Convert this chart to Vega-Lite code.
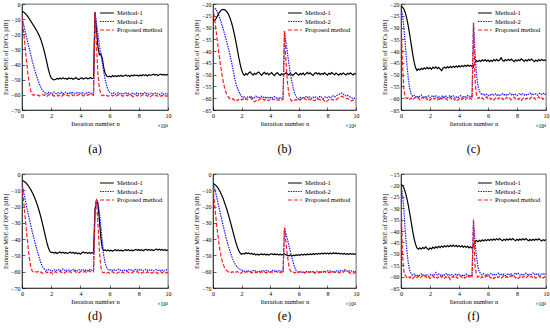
{
"$schema": "https://vega.github.io/schema/vega-lite/v6.json",
"padding": {"left": 2, "top": 0, "right": 2, "bottom": 0},
"columns": 3,
"spacing": {"row": 64, "column": 45},
"bounds": "flush",
"align": "each",
"resolve": {"scale": {"x": "independent", "y": "independent", "color": "independent", "strokeDash": "independent"}, "legend": {"color": "independent", "strokeDash": "independent"}},
"concat": [
{"title": {"text": "(a)", "offset": 14}, "width": 146, "height": 106, "layer": [
 {"data": {"name": "a"}, "transform": [{"fold": ["m1", "m2", "m3"], "as": ["k", "y"]}], "mark": {"type": "line", "strokeWidth": 1.2, "clip": true},
  "encoding": {
   "x": {"field": "x", "type": "quantitative", "scale": {"domain": [0, 10], "nice": false}, "axis": {"values": [0, 2, 4, 6, 8, 10], "tickCount": 20, "format": "d", "title": "Iteration number n", "labelOverlap": false}},
   "y": {"field": "y", "type": "quantitative", "scale": {"domain": [-70, 0], "nice": false, "zero": false}, "axis": {"values": [-70, -60, -50, -40, -30, -20, -10, 0], "tickCount": 20, "format": "d", "title": "Estimate MSE of DFCs [dB]", "labelOverlap": false}},
   "color": {"field": "k", "type": "nominal", "scale": {"domain": ["m1", "m2", "m3"], "range": ["#000000", "#1a1aff", "#ff1a1a"]}, "legend": {"title": null, "labelExpr": "datum.value == 'm1' ? 'Method-1' : datum.value == 'm2' ? 'Method-2' : 'Proposed method'"}},
   "strokeDash": {"field": "k", "type": "nominal", "scale": {"domain": ["m1", "m2", "m3"], "range": [[1, 0], [1.5, 1], [4, 2]]}, "legend": {"title": null, "labelExpr": "datum.value == 'm1' ? 'Method-1' : datum.value == 'm2' ? 'Method-2' : 'Proposed method'"}}
  }},
 {"data": {"values": [{"x": 10, "y": -70, "t": "×10⁴"}]}, "mark": {"type": "text", "align": "right", "baseline": "top", "dy": 14, "dx": 0, "fontSize": 5.5, "font": "Liberation Serif"}, "encoding": {"x": {"field": "x", "type": "quantitative"}, "y": {"field": "y", "type": "quantitative"}, "text": {"field": "t"}}}
]},
{"title": {"text": "(b)", "offset": 14}, "width": 143, "height": 106, "layer": [
 {"data": {"name": "b"}, "transform": [{"fold": ["m1", "m2", "m3"], "as": ["k", "y"]}], "mark": {"type": "line", "strokeWidth": 1.2, "clip": true},
  "encoding": {
   "x": {"field": "x", "type": "quantitative", "scale": {"domain": [0, 10], "nice": false}, "axis": {"values": [0, 2, 4, 6, 8, 10], "tickCount": 20, "format": "d", "title": "Iteration number n", "labelOverlap": false}},
   "y": {"field": "y", "type": "quantitative", "scale": {"domain": [-65, -20], "nice": false, "zero": false}, "axis": {"values": [-65, -60, -55, -50, -45, -40, -35, -30, -25, -20], "tickCount": 20, "format": "d", "title": "Estimate MSE of DFCs [dB]", "labelOverlap": false}},
   "color": {"field": "k", "type": "nominal", "scale": {"domain": ["m1", "m2", "m3"], "range": ["#000000", "#1a1aff", "#ff1a1a"]}, "legend": {"title": null, "labelExpr": "datum.value == 'm1' ? 'Method-1' : datum.value == 'm2' ? 'Method-2' : 'Proposed method'"}},
   "strokeDash": {"field": "k", "type": "nominal", "scale": {"domain": ["m1", "m2", "m3"], "range": [[1, 0], [1.5, 1], [4, 2]]}, "legend": {"title": null, "labelExpr": "datum.value == 'm1' ? 'Method-1' : datum.value == 'm2' ? 'Method-2' : 'Proposed method'"}}
  }},
 {"data": {"values": [{"x": 10, "y": -65, "t": "×10⁴"}]}, "mark": {"type": "text", "align": "right", "baseline": "top", "dy": 14, "dx": 0, "fontSize": 5.5, "font": "Liberation Serif"}, "encoding": {"x": {"field": "x", "type": "quantitative"}, "y": {"field": "y", "type": "quantitative"}, "text": {"field": "t"}}}
]},
{"title": {"text": "(c)", "offset": 14}, "width": 145, "height": 106, "layer": [
 {"data": {"name": "c"}, "transform": [{"fold": ["m1", "m2", "m3"], "as": ["k", "y"]}], "mark": {"type": "line", "strokeWidth": 1.2, "clip": true},
  "encoding": {
   "x": {"field": "x", "type": "quantitative", "scale": {"domain": [0, 10], "nice": false}, "axis": {"values": [0, 2, 4, 6, 8, 10], "tickCount": 20, "format": "d", "title": "Iteration number n", "labelOverlap": false}},
   "y": {"field": "y", "type": "quantitative", "scale": {"domain": [-65, -20], "nice": false, "zero": false}, "axis": {"values": [-65, -60, -55, -50, -45, -40, -35, -30, -25, -20], "tickCount": 20, "format": "d", "title": "Estimate MSE of DFCs [dB]", "labelOverlap": false}},
   "color": {"field": "k", "type": "nominal", "scale": {"domain": ["m1", "m2", "m3"], "range": ["#000000", "#1a1aff", "#ff1a1a"]}, "legend": {"title": null, "labelExpr": "datum.value == 'm1' ? 'Method-1' : datum.value == 'm2' ? 'Method-2' : 'Proposed method'"}},
   "strokeDash": {"field": "k", "type": "nominal", "scale": {"domain": ["m1", "m2", "m3"], "range": [[1, 0], [1.5, 1], [4, 2]]}, "legend": {"title": null, "labelExpr": "datum.value == 'm1' ? 'Method-1' : datum.value == 'm2' ? 'Method-2' : 'Proposed method'"}}
  }},
 {"data": {"values": [{"x": 10, "y": -65, "t": "×10⁴"}]}, "mark": {"type": "text", "align": "right", "baseline": "top", "dy": 14, "dx": 0, "fontSize": 5.5, "font": "Liberation Serif"}, "encoding": {"x": {"field": "x", "type": "quantitative"}, "y": {"field": "y", "type": "quantitative"}, "text": {"field": "t"}}}
]},
{"title": {"text": "(d)", "offset": 3}, "width": 146, "height": 114, "layer": [
 {"data": {"name": "d"}, "transform": [{"fold": ["m1", "m2", "m3"], "as": ["k", "y"]}], "mark": {"type": "line", "strokeWidth": 1.2, "clip": true},
  "encoding": {
   "x": {"field": "x", "type": "quantitative", "scale": {"domain": [0, 10], "nice": false}, "axis": {"values": [0, 2, 4, 6, 8, 10], "tickCount": 20, "format": "d", "title": "Iteration number n", "labelOverlap": false}},
   "y": {"field": "y", "type": "quantitative", "scale": {"domain": [-70, 0], "nice": false, "zero": false}, "axis": {"values": [-70, -60, -50, -40, -30, -20, -10, 0], "tickCount": 20, "format": "d", "title": "Estimate MSE of DFCs [dB]", "labelOverlap": false}},
   "color": {"field": "k", "type": "nominal", "scale": {"domain": ["m1", "m2", "m3"], "range": ["#000000", "#1a1aff", "#ff1a1a"]}, "legend": {"title": null, "labelExpr": "datum.value == 'm1' ? 'Method-1' : datum.value == 'm2' ? 'Method-2' : 'Proposed method'"}},
   "strokeDash": {"field": "k", "type": "nominal", "scale": {"domain": ["m1", "m2", "m3"], "range": [[1, 0], [1.5, 1], [4, 2]]}, "legend": {"title": null, "labelExpr": "datum.value == 'm1' ? 'Method-1' : datum.value == 'm2' ? 'Method-2' : 'Proposed method'"}}
  }},
 {"data": {"values": [{"x": 10, "y": -70, "t": "×10⁴"}]}, "mark": {"type": "text", "align": "right", "baseline": "top", "dy": 14, "dx": 0, "fontSize": 5.5, "font": "Liberation Serif"}, "encoding": {"x": {"field": "x", "type": "quantitative"}, "y": {"field": "y", "type": "quantitative"}, "text": {"field": "t"}}}
]},
{"title": {"text": "(e)", "offset": 3}, "width": 143, "height": 114, "layer": [
 {"data": {"name": "e"}, "transform": [{"fold": ["m1", "m2", "m3"], "as": ["k", "y"]}], "mark": {"type": "line", "strokeWidth": 1.2, "clip": true},
  "encoding": {
   "x": {"field": "x", "type": "quantitative", "scale": {"domain": [0, 10], "nice": false}, "axis": {"values": [0, 2, 4, 6, 8, 10], "tickCount": 20, "format": "d", "title": "Iteration number n", "labelOverlap": false}},
   "y": {"field": "y", "type": "quantitative", "scale": {"domain": [-70, 0], "nice": false, "zero": false}, "axis": {"values": [-70, -60, -50, -40, -30, -20, -10, 0], "tickCount": 20, "format": "d", "title": "Estimate MSE of DFCs [dB]", "labelOverlap": false}},
   "color": {"field": "k", "type": "nominal", "scale": {"domain": ["m1", "m2", "m3"], "range": ["#000000", "#1a1aff", "#ff1a1a"]}, "legend": {"title": null, "labelExpr": "datum.value == 'm1' ? 'Method-1' : datum.value == 'm2' ? 'Method-2' : 'Proposed method'"}},
   "strokeDash": {"field": "k", "type": "nominal", "scale": {"domain": ["m1", "m2", "m3"], "range": [[1, 0], [1.5, 1], [4, 2]]}, "legend": {"title": null, "labelExpr": "datum.value == 'm1' ? 'Method-1' : datum.value == 'm2' ? 'Method-2' : 'Proposed method'"}}
  }},
 {"data": {"values": [{"x": 10, "y": -70, "t": "×10⁴"}]}, "mark": {"type": "text", "align": "right", "baseline": "top", "dy": 14, "dx": 0, "fontSize": 5.5, "font": "Liberation Serif"}, "encoding": {"x": {"field": "x", "type": "quantitative"}, "y": {"field": "y", "type": "quantitative"}, "text": {"field": "t"}}}
]},
{"title": {"text": "(f)", "offset": 3}, "width": 145, "height": 114, "layer": [
 {"data": {"name": "f"}, "transform": [{"fold": ["m1", "m2", "m3"], "as": ["k", "y"]}], "mark": {"type": "line", "strokeWidth": 1.2, "clip": true},
  "encoding": {
   "x": {"field": "x", "type": "quantitative", "scale": {"domain": [0, 10], "nice": false}, "axis": {"values": [0, 2, 4, 6, 8, 10], "tickCount": 20, "format": "d", "title": "Iteration number n", "labelOverlap": false}},
   "y": {"field": "y", "type": "quantitative", "scale": {"domain": [-65, -15], "nice": false, "zero": false}, "axis": {"values": [-65, -60, -55, -50, -45, -40, -35, -30, -25, -20, -15], "tickCount": 20, "format": "d", "title": "Estimate MSE of DFCs [dB]", "labelOverlap": false}},
   "color": {"field": "k", "type": "nominal", "scale": {"domain": ["m1", "m2", "m3"], "range": ["#000000", "#1a1aff", "#ff1a1a"]}, "legend": {"title": null, "labelExpr": "datum.value == 'm1' ? 'Method-1' : datum.value == 'm2' ? 'Method-2' : 'Proposed method'"}},
   "strokeDash": {"field": "k", "type": "nominal", "scale": {"domain": ["m1", "m2", "m3"], "range": [[1, 0], [1.5, 1], [4, 2]]}, "legend": {"title": null, "labelExpr": "datum.value == 'm1' ? 'Method-1' : datum.value == 'm2' ? 'Method-2' : 'Proposed method'"}}
  }},
 {"data": {"values": [{"x": 10, "y": -65, "t": "×10⁴"}]}, "mark": {"type": "text", "align": "right", "baseline": "top", "dy": 14, "dx": 0, "fontSize": 5.5, "font": "Liberation Serif"}, "encoding": {"x": {"field": "x", "type": "quantitative"}, "y": {"field": "y", "type": "quantitative"}, "text": {"field": "t"}}}
]}
],
"datasets": {
"a": [
{"x":0,"m1":-5.0,"m2":-8,"m3":-8.5},{"x":0.1,"m1":-5.3,"m2":-13,"m3":-17},{"x":0.2,"m1":-6.0,"m2":-17.5,"m3":-27},{"x":0.3,"m1":-7.0,"m2":-21.5,"m3":-37},{"x":0.4,"m1":-8.3,"m2":-25.5,"m3":-45.5},{"x":0.5,"m1":-9.8,"m2":-29.5,"m3":-52.5},{"x":0.6,"m1":-11.3,"m2":-33.5,"m3":-57.5},{"x":0.7,"m1":-12.8,"m2":-37.5,"m3":-59.8},{"x":0.8,"m1":-14.3,"m2":-41,"m3":-60.3},{"x":0.9,"m1":-15.9,"m2":-44.5,"m3":-59.9},
{"x":1.0,"m1":-17.5,"m2":-47.5,"m3":-60.6},{"x":1.1,"m1":-19.3,"m2":-50.5,"m3":-60.1},{"x":1.2,"m1":-21.3,"m2":-53,"m3":-60.8},{"x":1.3,"m1":-23.8,"m2":-55.2,"m3":-60.2},{"x":1.4,"m1":-26.8,"m2":-57,"m3":-59.7},{"x":1.5,"m1":-30.3,"m2":-58.2,"m3":-60.5},{"x":1.6,"m1":-34.2,"m2":-58.8,"m3":-60.0},{"x":1.7,"m1":-38.5,"m2":-59.4,"m3":-61.0},{"x":1.8,"m1":-42.8,"m2":-58.3,"m3":-60.3},{"x":1.9,"m1":-46.5,"m2":-59.2,"m3":-59.8},
{"x":2.0,"m1":-48.8,"m2":-58.6,"m3":-60.6},{"x":2.1,"m1":-49.7,"m2":-59.5,"m3":-60.1},{"x":2.2,"m1":-50.1,"m2":-58.1,"m3":-60.9},{"x":2.3,"m1":-49.8,"m2":-58.9,"m3":-60.4},{"x":2.4,"m1":-49.2,"m2":-59.3,"m3":-59.9},{"x":2.5,"m1":-49.6,"m2":-58.4,"m3":-60.7},{"x":2.6,"m1":-48.9,"m2":-59.0,"m3":-60.2},{"x":2.7,"m1":-49.5,"m2":-58.2,"m3":-61.2},{"x":2.8,"m1":-48.7,"m2":-59.6,"m3":-60.3},{"x":2.9,"m1":-49.4,"m2":-58.7,"m3":-59.7},
{"x":3.0,"m1":-49.1,"m2":-58.3,"m3":-60.5},{"x":3.1,"m1":-49.8,"m2":-59.1,"m3":-60.0},{"x":3.2,"m1":-48.8,"m2":-58.5,"m3":-60.8},{"x":3.3,"m1":-49.3,"m2":-59.4,"m3":-60.2},{"x":3.4,"m1":-49.0,"m2":-58.0,"m3":-59.8},{"x":3.5,"m1":-49.7,"m2":-58.8,"m3":-60.6},{"x":3.6,"m1":-49.2,"m2":-59.2,"m3":-60.1},{"x":3.7,"m1":-48.6,"m2":-58.4,"m3":-60.9},{"x":3.8,"m1":-49.5,"m2":-59.0,"m3":-60.3},{"x":3.9,"m1":-49.9,"m2":-58.6,"m3":-59.8},
{"x":4.0,"m1":-49.1,"m2":-59.3,"m3":-60.4},{"x":4.1,"m1":-48.8,"m2":-58.2,"m3":-59.9},{"x":4.2,"m1":-49.6,"m2":-58.9,"m3":-60.7},{"x":4.3,"m1":-49.0,"m2":-59.5,"m3":-60.2},{"x":4.4,"m1":-48.7,"m2":-58.5,"m3":-59.6},{"x":4.5,"m1":-49.4,"m2":-58.9,"m3":-60.3},{"x":4.6,"m1":-49.1,"m2":-58.3,"m3":-59.8},{"x":4.7,"m1":-48.6,"m2":-59.1,"m3":-60.5},{"x":4.8,"m1":-49.3,"m2":-58.6,"m3":-59.9},{"x":4.9,"m1":-48.9,"m2":-58.8,"m3":-60.2},
{"x":5.0,"m1":-5.5,"m2":-5.5,"m3":-5.5},{"x":5.1,"m1":-17,"m2":-13,"m3":-27},{"x":5.2,"m1":-28,"m2":-20,"m3":-46},{"x":5.3,"m1":-33.5,"m2":-27,"m3":-55.5},{"x":5.4,"m1":-33,"m2":-33,"m3":-59.5},{"x":5.5,"m1":-36,"m2":-39,"m3":-60.6},{"x":5.6,"m1":-42,"m2":-45,"m3":-60.1},{"x":5.7,"m1":-46,"m2":-50,"m3":-60.9},{"x":5.8,"m1":-47.5,"m2":-54,"m3":-60.3},{"x":5.9,"m1":-48.1,"m2":-56.8,"m3":-61.0},
{"x":6.0,"m1":-47.6,"m2":-58.2,"m3":-60.4},{"x":6.1,"m1":-48.2,"m2":-58.9,"m3":-59.9},{"x":6.2,"m1":-47.3,"m2":-59.4,"m3":-60.8},{"x":6.3,"m1":-47.9,"m2":-58.7,"m3":-60.2},{"x":6.4,"m1":-47.4,"m2":-59.6,"m3":-61.1},{"x":6.5,"m1":-48.0,"m2":-59.0,"m3":-60.5},{"x":6.6,"m1":-47.2,"m2":-58.5,"m3":-59.9},{"x":6.7,"m1":-47.7,"m2":-59.3,"m3":-60.7},{"x":6.8,"m1":-47.1,"m2":-58.8,"m3":-60.2},{"x":6.9,"m1":-47.8,"m2":-59.7,"m3":-61.0},
{"x":7.0,"m1":-47.4,"m2":-59.1,"m3":-60.4},{"x":7.1,"m1":-46.9,"m2":-58.6,"m3":-59.8},{"x":7.2,"m1":-47.6,"m2":-59.4,"m3":-60.6},{"x":7.3,"m1":-47.2,"m2":-58.9,"m3":-60.1},{"x":7.4,"m1":-47.9,"m2":-59.8,"m3":-60.9},{"x":7.5,"m1":-47.0,"m2":-59.2,"m3":-60.3},{"x":7.6,"m1":-47.5,"m2":-58.7,"m3":-61.2},{"x":7.7,"m1":-46.8,"m2":-59.5,"m3":-60.5},{"x":7.8,"m1":-47.3,"m2":-59.0,"m3":-59.9},{"x":7.9,"m1":-47.0,"m2":-58.6,"m3":-60.7},
{"x":8.0,"m1":-47.6,"m2":-59.3,"m3":-60.2},{"x":8.1,"m1":-46.9,"m2":-58.9,"m3":-61.0},{"x":8.2,"m1":-47.4,"m2":-59.6,"m3":-60.4},{"x":8.3,"m1":-46.7,"m2":-59.0,"m3":-59.8},{"x":8.4,"m1":-47.2,"m2":-58.5,"m3":-60.6},{"x":8.5,"m1":-46.9,"m2":-59.4,"m3":-60.1},{"x":8.6,"m1":-47.5,"m2":-58.8,"m3":-60.9},{"x":8.7,"m1":-46.6,"m2":-59.7,"m3":-60.3},{"x":8.8,"m1":-47.1,"m2":-59.1,"m3":-61.1},{"x":8.9,"m1":-46.8,"m2":-58.7,"m3":-60.5},
{"x":9.0,"m1":-46.4,"m2":-59.5,"m3":-59.9},{"x":9.1,"m1":-47.0,"m2":-59.0,"m3":-60.8},{"x":9.2,"m1":-46.5,"m2":-58.6,"m3":-60.2},{"x":9.3,"m1":-47.2,"m2":-59.4,"m3":-61.0},{"x":9.4,"m1":-46.7,"m2":-59.9,"m3":-60.4},{"x":9.5,"m1":-46.3,"m2":-59.2,"m3":-60.9},{"x":9.6,"m1":-46.9,"m2":-58.8,"m3":-60.3},{"x":9.7,"m1":-46.5,"m2":-59.6,"m3":-61.2},{"x":9.8,"m1":-47.0,"m2":-59.1,"m3":-60.5},{"x":9.9,"m1":-46.6,"m2":-59.7,"m3":-60.9},
{"x":10.0,"m1":-46.8,"m2":-59.3,"m3":-60.4}
],
"b": [
{"x":0,"m1":-26.5,"m2":-22.5,"m3":-21.5},{"x":0.1,"m1":-27.0,"m2":-21.8,"m3":-25.5},{"x":0.2,"m1":-26.3,"m2":-22.2,"m3":-30.5},{"x":0.3,"m1":-25.2,"m2":-23.3,"m3":-35.5},{"x":0.4,"m1":-24.0,"m2":-24.8,"m3":-40.5},{"x":0.5,"m1":-23.1,"m2":-26.5,"m3":-45.0},{"x":0.6,"m1":-22.5,"m2":-28.4,"m3":-49.0},{"x":0.7,"m1":-22.3,"m2":-30.4,"m3":-52.5},{"x":0.8,"m1":-22.4,"m2":-32.5,"m3":-55.3},{"x":0.9,"m1":-22.8,"m2":-34.7,"m3":-57.4},
{"x":1.0,"m1":-23.5,"m2":-37.0,"m3":-58.8},{"x":1.1,"m1":-24.6,"m2":-39.4,"m3":-59.7},{"x":1.2,"m1":-26.1,"m2":-42.0,"m3":-60.3},{"x":1.3,"m1":-28.0,"m2":-44.8,"m3":-60.7},{"x":1.4,"m1":-30.3,"m2":-47.8,"m3":-60.2},{"x":1.5,"m1":-33.0,"m2":-51.0,"m3":-60.9},{"x":1.6,"m1":-36.0,"m2":-53.8,"m3":-60.4},{"x":1.7,"m1":-39.3,"m2":-55.6,"m3":-61.0},{"x":1.8,"m1":-42.6,"m2":-57.0,"m3":-60.5},{"x":1.9,"m1":-45.6,"m2":-58.3,"m3":-60.0},
{"x":2.0,"m1":-48.0,"m2":-59.3,"m3":-60.7},{"x":2.1,"m1":-49.6,"m2":-59.8,"m3":-60.3},{"x":2.2,"m1":-50.3,"m2":-59.4,"m3":-60.9},{"x":2.3,"m1":-49.5,"m2":-60.1,"m3":-60.2},{"x":2.4,"m1":-50.1,"m2":-59.6,"m3":-60.6},{"x":2.5,"m1":-49.3,"m2":-59.2,"m3":-60.0},{"x":2.6,"m1":-48.8,"m2":-59.9,"m3":-59.6},{"x":2.7,"m1":-49.6,"m2":-59.3,"m3":-60.3},{"x":2.8,"m1":-50.2,"m2":-60.2,"m3":-61.2},{"x":2.9,"m1":-49.4,"m2":-59.7,"m3":-61.6},
{"x":3.0,"m1":-49.9,"m2":-59.1,"m3":-61.0},{"x":3.1,"m1":-49.2,"m2":-59.8,"m3":-60.5},{"x":3.2,"m1":-48.9,"m2":-59.4,"m3":-60.9},{"x":3.3,"m1":-49.7,"m2":-60.0,"m3":-60.3},{"x":3.4,"m1":-50.3,"m2":-59.2,"m3":-59.8},{"x":3.5,"m1":-49.5,"m2":-59.7,"m3":-60.4},{"x":3.6,"m1":-49.0,"m2":-59.3,"m3":-60.8},{"x":3.7,"m1":-49.8,"m2":-60.1,"m3":-60.2},{"x":3.8,"m1":-49.3,"m2":-59.6,"m3":-60.7},{"x":3.9,"m1":-50.1,"m2":-59.9,"m3":-61.1},
{"x":4.0,"m1":-49.6,"m2":-59.4,"m3":-60.5},{"x":4.1,"m1":-49.1,"m2":-60.2,"m3":-60.9},{"x":4.2,"m1":-49.9,"m2":-59.7,"m3":-60.3},{"x":4.3,"m1":-50.4,"m2":-59.3,"m3":-60.7},{"x":4.4,"m1":-49.5,"m2":-60.0,"m3":-61.2},{"x":4.5,"m1":-49.2,"m2":-59.6,"m3":-60.6},{"x":4.6,"m1":-49.8,"m2":-60.3,"m3":-60.9},{"x":4.7,"m1":-50.3,"m2":-59.8,"m3":-60.4},{"x":4.8,"m1":-49.6,"m2":-60.1,"m3":-60.8},{"x":4.9,"m1":-50.0,"m2":-59.7,"m3":-60.5},
{"x":5.0,"m1":-49.8,"m2":-31.5,"m3":-31.5},{"x":5.1,"m1":-49.2,"m2":-36,"m3":-44},{"x":5.2,"m1":-49.7,"m2":-40.5,"m3":-53},{"x":5.3,"m1":-50.1,"m2":-45,"m3":-58},{"x":5.4,"m1":-49.4,"m2":-49,"m3":-60.3},{"x":5.5,"m1":-49.9,"m2":-52.5,"m3":-61.2},{"x":5.6,"m1":-50.3,"m2":-55.5,"m3":-60.7},{"x":5.7,"m1":-49.6,"m2":-57.8,"m3":-61.0},{"x":5.8,"m1":-49.1,"m2":-59.2,"m3":-60.5},{"x":5.9,"m1":-49.8,"m2":-60.0,"m3":-60.9},
{"x":6.0,"m1":-50.2,"m2":-60.3,"m3":-60.4},{"x":6.1,"m1":-49.5,"m2":-59.7,"m3":-60.8},{"x":6.2,"m1":-49.9,"m2":-60.1,"m3":-60.2},{"x":6.3,"m1":-49.3,"m2":-59.5,"m3":-60.6},{"x":6.4,"m1":-50.1,"m2":-59.9,"m3":-60.0},{"x":6.5,"m1":-49.6,"m2":-59.3,"m3":-60.5},{"x":6.6,"m1":-49.0,"m2":-59.8,"m3":-60.9},{"x":6.7,"m1":-49.7,"m2":-59.2,"m3":-60.3},{"x":6.8,"m1":-49.2,"m2":-59.7,"m3":-60.7},{"x":6.9,"m1":-49.9,"m2":-60.1,"m3":-60.2},
{"x":7.0,"m1":-50.3,"m2":-59.5,"m3":-60.8},{"x":7.1,"m1":-49.5,"m2":-59.9,"m3":-61.1},{"x":7.2,"m1":-49.1,"m2":-59.4,"m3":-60.5},{"x":7.3,"m1":-49.8,"m2":-60.0,"m3":-60.9},{"x":7.4,"m1":-49.3,"m2":-59.6,"m3":-60.3},{"x":7.5,"m1":-50.0,"m2":-59.1,"m3":-60.7},{"x":7.6,"m1":-49.5,"m2":-59.7,"m3":-60.1},{"x":7.7,"m1":-49.9,"m2":-60.2,"m3":-60.6},{"x":7.8,"m1":-49.2,"m2":-59.6,"m3":-61.2},{"x":7.9,"m1":-49.7,"m2":-59.3,"m3":-61.8},
{"x":8.0,"m1":-50.2,"m2":-59.8,"m3":-61.1},{"x":8.1,"m1":-49.4,"m2":-59.4,"m3":-60.6},{"x":8.2,"m1":-49.8,"m2":-59.9,"m3":-61.0},{"x":8.3,"m1":-49.1,"m2":-59.3,"m3":-60.4},{"x":8.4,"m1":-49.6,"m2":-59.0,"m3":-60.8},{"x":8.5,"m1":-50.0,"m2":-59.5,"m3":-60.3},{"x":8.6,"m1":-49.3,"m2":-59.1,"m3":-60.7},{"x":8.7,"m1":-49.8,"m2":-58.6,"m3":-60.1},{"x":8.8,"m1":-50.2,"m2":-58.4,"m3":-59.8},{"x":8.9,"m1":-49.5,"m2":-58.0,"m3":-59.4},
{"x":9.0,"m1":-49.9,"m2":-57.8,"m3":-59.1},{"x":9.1,"m1":-49.3,"m2":-58.3,"m3":-59.5},{"x":9.2,"m1":-49.7,"m2":-58.6,"m3":-59.9},{"x":9.3,"m1":-50.1,"m2":-59.0,"m3":-60.3},{"x":9.4,"m1":-49.4,"m2":-58.7,"m3":-60.0},{"x":9.5,"m1":-49.8,"m2":-59.2,"m3":-60.5},{"x":9.6,"m1":-49.2,"m2":-59.5,"m3":-60.9},{"x":9.7,"m1":-49.7,"m2":-59.8,"m3":-61.2},{"x":9.8,"m1":-50.1,"m2":-60.2,"m3":-60.7},{"x":9.9,"m1":-49.5,"m2":-60.0,"m3":-61.1},
{"x":10.0,"m1":-49.8,"m2":-60.4,"m3":-61.4}
],
"c": [
{"x":0,"m1":-21.0,"m2":-22.0,"m3":-24.0},{"x":0.1,"m1":-21.3,"m2":-24.5,"m3":-45.0},{"x":0.2,"m1":-22.2,"m2":-30.0,"m3":-56.5},{"x":0.3,"m1":-23.8,"m2":-37.5,"m3":-59.6},{"x":0.4,"m1":-26.2,"m2":-45.0,"m3":-60.2},{"x":0.5,"m1":-29.3,"m2":-51.5,"m3":-59.7},{"x":0.6,"m1":-33.0,"m2":-55.8,"m3":-60.5},{"x":0.7,"m1":-37.0,"m2":-58.2,"m3":-59.9},{"x":0.8,"m1":-41.0,"m2":-59.2,"m3":-60.8},{"x":0.9,"m1":-44.5,"m2":-58.8,"m3":-60.1},
{"x":1.0,"m1":-47.0,"m2":-59.5,"m3":-59.6},{"x":1.1,"m1":-48.2,"m2":-59.0,"m3":-60.4},{"x":1.2,"m1":-47.6,"m2":-59.7,"m3":-59.8},{"x":1.3,"m1":-48.0,"m2":-59.2,"m3":-60.7},{"x":1.4,"m1":-47.3,"m2":-58.7,"m3":-60.1},{"x":1.5,"m1":-47.8,"m2":-59.4,"m3":-59.5},{"x":1.6,"m1":-47.1,"m2":-59.9,"m3":-60.3},{"x":1.7,"m1":-47.6,"m2":-59.1,"m3":-59.8},{"x":1.8,"m1":-46.9,"m2":-59.6,"m3":-60.6},{"x":1.9,"m1":-47.5,"m2":-59.0,"m3":-60.0},
{"x":2.0,"m1":-47.0,"m2":-59.8,"m3":-60.9},{"x":2.1,"m1":-47.7,"m2":-59.3,"m3":-60.2},{"x":2.2,"m1":-46.8,"m2":-58.8,"m3":-59.6},{"x":2.3,"m1":-47.3,"m2":-59.5,"m3":-60.4},{"x":2.4,"m1":-46.7,"m2":-59.0,"m3":-59.9},{"x":2.5,"m1":-47.4,"m2":-59.7,"m3":-60.7},{"x":2.6,"m1":-46.9,"m2":-59.2,"m3":-60.1},{"x":2.7,"m1":-47.6,"m2":-60.1,"m3":-61.0},{"x":2.8,"m1":-48.3,"m2":-59.4,"m3":-60.3},{"x":2.9,"m1":-47.2,"m2":-58.9,"m3":-59.7},
{"x":3.0,"m1":-46.8,"m2":-59.6,"m3":-60.5},{"x":3.1,"m1":-47.3,"m2":-59.1,"m3":-60.0},{"x":3.2,"m1":-46.6,"m2":-59.8,"m3":-60.8},{"x":3.3,"m1":-47.1,"m2":-59.3,"m3":-60.2},{"x":3.4,"m1":-46.5,"m2":-58.8,"m3":-59.6},{"x":3.5,"m1":-47.0,"m2":-59.5,"m3":-60.4},{"x":3.6,"m1":-46.4,"m2":-59.0,"m3":-59.9},{"x":3.7,"m1":-46.9,"m2":-59.7,"m3":-60.7},{"x":3.8,"m1":-46.3,"m2":-59.2,"m3":-60.1},{"x":3.9,"m1":-46.8,"m2":-59.9,"m3":-61.0},
{"x":4.0,"m1":-46.2,"m2":-59.4,"m3":-60.3},{"x":4.1,"m1":-46.7,"m2":-58.9,"m3":-59.7},{"x":4.2,"m1":-46.1,"m2":-59.6,"m3":-60.5},{"x":4.3,"m1":-46.6,"m2":-59.1,"m3":-60.0},{"x":4.4,"m1":-46.0,"m2":-59.8,"m3":-60.8},{"x":4.5,"m1":-46.5,"m2":-59.3,"m3":-60.2},{"x":4.6,"m1":-45.9,"m2":-58.8,"m3":-59.6},{"x":4.7,"m1":-46.4,"m2":-59.5,"m3":-60.4},{"x":4.8,"m1":-46.0,"m2":-59.0,"m3":-59.9},{"x":4.9,"m1":-46.6,"m2":-59.6,"m3":-60.6},
{"x":5.0,"m1":-46.8,"m2":-28.0,"m3":-28.0},{"x":5.1,"m1":-44.6,"m2":-40,"m3":-52.0},{"x":5.2,"m1":-44.0,"m2":-49.5,"m3":-58.5},{"x":5.3,"m1":-44.5,"m2":-54.5,"m3":-60.1},{"x":5.4,"m1":-43.9,"m2":-57.0,"m3":-59.6},{"x":5.5,"m1":-44.4,"m2":-58.0,"m3":-60.4},{"x":5.6,"m1":-43.7,"m2":-58.6,"m3":-59.8},{"x":5.7,"m1":-44.2,"m2":-58.1,"m3":-60.6},{"x":5.8,"m1":-43.6,"m2":-58.8,"m3":-60.0},{"x":5.9,"m1":-44.3,"m2":-58.3,"m3":-59.4},
{"x":6.0,"m1":-43.8,"m2":-59.0,"m3":-60.2},{"x":6.1,"m1":-44.5,"m2":-58.4,"m3":-59.7},{"x":6.2,"m1":-43.9,"m2":-58.9,"m3":-60.5},{"x":6.3,"m1":-44.4,"m2":-58.2,"m3":-59.9},{"x":6.4,"m1":-43.6,"m2":-58.7,"m3":-60.8},{"x":6.5,"m1":-44.1,"m2":-58.1,"m3":-60.1},{"x":6.6,"m1":-43.5,"m2":-58.8,"m3":-59.5},{"x":6.7,"m1":-44.2,"m2":-58.3,"m3":-60.3},{"x":6.8,"m1":-43.8,"m2":-59.0,"m3":-59.8},{"x":6.9,"m1":-42.8,"m2":-58.5,"m3":-60.6},
{"x":7.0,"m1":-43.9,"m2":-58.0,"m3":-60.0},{"x":7.1,"m1":-44.3,"m2":-58.7,"m3":-60.9},{"x":7.2,"m1":-43.6,"m2":-58.2,"m3":-60.2},{"x":7.3,"m1":-44.1,"m2":-58.9,"m3":-59.6},{"x":7.4,"m1":-43.5,"m2":-58.4,"m3":-60.4},{"x":7.5,"m1":-44.0,"m2":-57.9,"m3":-59.9},{"x":7.6,"m1":-43.4,"m2":-58.6,"m3":-60.7},{"x":7.7,"m1":-43.9,"m2":-58.1,"m3":-60.1},{"x":7.8,"m1":-44.5,"m2":-58.8,"m3":-59.5},{"x":7.9,"m1":-43.7,"m2":-58.3,"m3":-60.3},
{"x":8.0,"m1":-44.2,"m2":-58.9,"m3":-59.8},{"x":8.1,"m1":-43.6,"m2":-58.4,"m3":-60.6},{"x":8.2,"m1":-44.1,"m2":-57.9,"m3":-60.0},{"x":8.3,"m1":-43.3,"m2":-58.6,"m3":-60.9},{"x":8.4,"m1":-43.8,"m2":-58.1,"m3":-60.2},{"x":8.5,"m1":-44.4,"m2":-58.7,"m3":-59.6},{"x":8.6,"m1":-43.7,"m2":-58.2,"m3":-60.4},{"x":8.7,"m1":-44.2,"m2":-58.8,"m3":-59.9},{"x":8.8,"m1":-43.5,"m2":-58.3,"m3":-60.7},{"x":8.9,"m1":-44.0,"m2":-57.8,"m3":-60.1},
{"x":9.0,"m1":-43.4,"m2":-58.5,"m3":-59.5},{"x":9.1,"m1":-43.9,"m2":-58.0,"m3":-60.3},{"x":9.2,"m1":-44.5,"m2":-58.6,"m3":-59.8},{"x":9.3,"m1":-43.8,"m2":-58.1,"m3":-60.6},{"x":9.4,"m1":-44.3,"m2":-58.7,"m3":-60.0},{"x":9.5,"m1":-43.6,"m2":-58.2,"m3":-59.4},{"x":9.6,"m1":-44.1,"m2":-57.8,"m3":-60.2},{"x":9.7,"m1":-43.5,"m2":-58.4,"m3":-59.7},{"x":9.8,"m1":-44.0,"m2":-57.9,"m3":-60.5},{"x":9.9,"m1":-43.7,"m2":-58.5,"m3":-59.9},
{"x":10.0,"m1":-44.1,"m2":-58.1,"m3":-60.3}
],
"d": [
{"x":0,"m1":-4.0,"m2":-6.0,"m3":-7.0},{"x":0.1,"m1":-4.3,"m2":-10.5,"m3":-15.5},{"x":0.2,"m1":-4.9,"m2":-15.0,"m3":-25.0},{"x":0.3,"m1":-5.7,"m2":-19.3,"m3":-34.5},{"x":0.4,"m1":-6.8,"m2":-23.5,"m3":-43.5},{"x":0.5,"m1":-8.1,"m2":-27.5,"m3":-51.5},{"x":0.6,"m1":-9.6,"m2":-31.5,"m3":-57.0},{"x":0.7,"m1":-11.3,"m2":-35.3,"m3":-59.5},{"x":0.8,"m1":-13.2,"m2":-39.0,"m3":-60.1},{"x":0.9,"m1":-15.3,"m2":-42.5,"m3":-59.6},
{"x":1.0,"m1":-17.7,"m2":-45.8,"m3":-60.4},{"x":1.1,"m1":-20.4,"m2":-49.0,"m3":-59.9},{"x":1.2,"m1":-23.4,"m2":-52.0,"m3":-60.7},{"x":1.3,"m1":-26.7,"m2":-54.7,"m3":-60.2},{"x":1.4,"m1":-30.3,"m2":-56.8,"m3":-61.0},{"x":1.5,"m1":-34.2,"m2":-58.0,"m3":-60.3},{"x":1.6,"m1":-38.2,"m2":-58.7,"m3":-59.8},{"x":1.7,"m1":-42.0,"m2":-59.2,"m3":-60.6},{"x":1.8,"m1":-45.2,"m2":-58.6,"m3":-60.1},{"x":1.9,"m1":-47.3,"m2":-59.4,"m3":-60.9},
{"x":2.0,"m1":-48.3,"m2":-58.9,"m3":-60.3},{"x":2.1,"m1":-48.0,"m2":-59.6,"m3":-61.3},{"x":2.2,"m1":-48.6,"m2":-59.0,"m3":-60.4},{"x":2.3,"m1":-48.1,"m2":-58.5,"m3":-59.9},{"x":2.4,"m1":-48.8,"m2":-59.3,"m3":-60.7},{"x":2.5,"m1":-48.3,"m2":-58.8,"m3":-60.2},{"x":2.6,"m1":-47.9,"m2":-59.5,"m3":-59.7},{"x":2.7,"m1":-48.5,"m2":-59.0,"m3":-60.5},{"x":2.8,"m1":-48.0,"m2":-58.4,"m3":-60.0},{"x":2.9,"m1":-48.7,"m2":-59.2,"m3":-60.8},
{"x":3.0,"m1":-48.2,"m2":-58.7,"m3":-60.2},{"x":3.1,"m1":-48.9,"m2":-59.4,"m3":-59.6},{"x":3.2,"m1":-48.4,"m2":-58.9,"m3":-60.4},{"x":3.3,"m1":-47.9,"m2":-59.6,"m3":-59.9},{"x":3.4,"m1":-48.6,"m2":-59.1,"m3":-60.7},{"x":3.5,"m1":-48.1,"m2":-58.6,"m3":-60.1},{"x":3.6,"m1":-48.8,"m2":-59.3,"m3":-59.5},{"x":3.7,"m1":-48.3,"m2":-58.8,"m3":-60.3},{"x":3.8,"m1":-49.0,"m2":-59.5,"m3":-59.8},{"x":3.9,"m1":-48.5,"m2":-59.0,"m3":-60.6},
{"x":4.0,"m1":-49.2,"m2":-58.5,"m3":-60.0},{"x":4.1,"m1":-48.4,"m2":-59.2,"m3":-59.4},{"x":4.2,"m1":-47.9,"m2":-58.7,"m3":-60.2},{"x":4.3,"m1":-48.6,"m2":-59.4,"m3":-59.7},{"x":4.4,"m1":-48.1,"m2":-58.9,"m3":-60.5},{"x":4.5,"m1":-48.7,"m2":-59.6,"m3":-59.9},{"x":4.6,"m1":-48.2,"m2":-59.0,"m3":-59.3},{"x":4.7,"m1":-48.8,"m2":-58.5,"m3":-60.1},{"x":4.8,"m1":-48.3,"m2":-59.2,"m3":-59.6},{"x":4.9,"m1":-48.6,"m2":-58.8,"m3":-60.0},
{"x":5.0,"m1":-22.0,"m2":-22.0,"m3":-22.0},{"x":5.1,"m1":-16.0,"m2":-16.0,"m3":-16.0},{"x":5.2,"m1":-18.5,"m2":-17.5,"m3":-30.0},{"x":5.3,"m1":-28.0,"m2":-23.0,"m3":-47.0},{"x":5.4,"m1":-39.0,"m2":-32.0,"m3":-57.0},{"x":5.5,"m1":-45.5,"m2":-42.0,"m3":-60.2},{"x":5.6,"m1":-47.0,"m2":-50.0,"m3":-60.7},{"x":5.7,"m1":-46.6,"m2":-55.0,"m3":-60.1},{"x":5.8,"m1":-47.2,"m2":-57.5,"m3":-60.9},{"x":5.9,"m1":-46.7,"m2":-58.6,"m3":-60.3},
{"x":6.0,"m1":-47.3,"m2":-59.1,"m3":-61.0},{"x":6.1,"m1":-46.8,"m2":-58.6,"m3":-60.4},{"x":6.2,"m1":-47.4,"m2":-59.3,"m3":-59.9},{"x":6.3,"m1":-46.9,"m2":-58.8,"m3":-60.7},{"x":6.4,"m1":-46.5,"m2":-59.5,"m3":-60.2},{"x":6.5,"m1":-47.1,"m2":-59.0,"m3":-61.0},{"x":6.6,"m1":-46.6,"m2":-58.5,"m3":-60.5},{"x":6.7,"m1":-47.2,"m2":-59.2,"m3":-59.9},{"x":6.8,"m1":-46.7,"m2":-58.7,"m3":-60.6},{"x":6.9,"m1":-47.3,"m2":-59.4,"m3":-60.1},
{"x":7.0,"m1":-46.8,"m2":-58.9,"m3":-60.9},{"x":7.1,"m1":-46.4,"m2":-59.6,"m3":-60.3},{"x":7.2,"m1":-47.0,"m2":-59.1,"m3":-59.8},{"x":7.3,"m1":-46.5,"m2":-58.6,"m3":-60.5},{"x":7.4,"m1":-47.1,"m2":-59.3,"m3":-60.0},{"x":7.5,"m1":-46.6,"m2":-58.8,"m3":-60.8},{"x":7.6,"m1":-47.2,"m2":-59.5,"m3":-60.2},{"x":7.7,"m1":-46.7,"m2":-59.0,"m3":-59.7},{"x":7.8,"m1":-46.3,"m2":-58.4,"m3":-60.4},{"x":7.9,"m1":-46.9,"m2":-59.1,"m3":-59.9},
{"x":8.0,"m1":-46.4,"m2":-58.6,"m3":-60.7},{"x":8.1,"m1":-47.0,"m2":-59.3,"m3":-60.1},{"x":8.2,"m1":-46.5,"m2":-58.8,"m3":-60.9},{"x":8.3,"m1":-47.1,"m2":-59.5,"m3":-60.3},{"x":8.4,"m1":-46.6,"m2":-59.0,"m3":-59.8},{"x":8.5,"m1":-46.2,"m2":-58.5,"m3":-60.6},{"x":8.6,"m1":-46.8,"m2":-59.2,"m3":-60.0},{"x":8.7,"m1":-46.3,"m2":-58.7,"m3":-60.8},{"x":8.8,"m1":-46.9,"m2":-59.4,"m3":-60.3},{"x":8.9,"m1":-46.4,"m2":-58.9,"m3":-61.0},
{"x":9.0,"m1":-47.0,"m2":-59.6,"m3":-60.4},{"x":9.1,"m1":-46.5,"m2":-59.1,"m3":-60.9},{"x":9.2,"m1":-46.1,"m2":-58.6,"m3":-60.3},{"x":9.3,"m1":-46.7,"m2":-59.3,"m3":-61.1},{"x":9.4,"m1":-46.2,"m2":-58.8,"m3":-60.5},{"x":9.5,"m1":-46.8,"m2":-59.5,"m3":-60.0},{"x":9.6,"m1":-46.3,"m2":-59.0,"m3":-60.8},{"x":9.7,"m1":-46.9,"m2":-59.7,"m3":-60.2},{"x":9.8,"m1":-46.4,"m2":-59.2,"m3":-61.0},{"x":9.9,"m1":-47.0,"m2":-58.7,"m3":-60.4},
{"x":10.0,"m1":-46.6,"m2":-59.4,"m3":-60.8}
],
"e": [
{"x":0,"m1":-6.0,"m2":-6.0,"m3":-8.0},{"x":0.1,"m1":-6.3,"m2":-8.5,"m3":-17.5},{"x":0.2,"m1":-7.0,"m2":-12.0,"m3":-26.5},{"x":0.3,"m1":-8.0,"m2":-15.8,"m3":-34.5},{"x":0.4,"m1":-9.3,"m2":-19.7,"m3":-41.5},{"x":0.5,"m1":-10.9,"m2":-23.6,"m3":-47.5},{"x":0.6,"m1":-12.8,"m2":-27.5,"m3":-52.0},{"x":0.7,"m1":-14.9,"m2":-31.3,"m3":-55.2},{"x":0.8,"m1":-17.3,"m2":-35.0,"m3":-57.3},{"x":0.9,"m1":-19.9,"m2":-38.5,"m3":-58.7},
{"x":1.0,"m1":-22.7,"m2":-41.8,"m3":-59.6},{"x":1.1,"m1":-25.7,"m2":-44.9,"m3":-60.2},{"x":1.2,"m1":-28.9,"m2":-47.8,"m3":-59.7},{"x":1.3,"m1":-32.2,"m2":-50.4,"m3":-60.5},{"x":1.4,"m1":-35.6,"m2":-52.7,"m3":-60.0},{"x":1.5,"m1":-38.9,"m2":-54.6,"m3":-60.8},{"x":1.6,"m1":-42.0,"m2":-56.1,"m3":-60.3},{"x":1.7,"m1":-44.8,"m2":-57.2,"m3":-59.8},{"x":1.8,"m1":-47.0,"m2":-58.0,"m3":-60.6},{"x":1.9,"m1":-48.6,"m2":-58.6,"m3":-61.3},
{"x":2.0,"m1":-49.3,"m2":-59.0,"m3":-60.4},{"x":2.1,"m1":-48.8,"m2":-59.3,"m3":-59.9},{"x":2.2,"m1":-49.1,"m2":-59.8,"m3":-60.7},{"x":2.3,"m1":-48.3,"m2":-59.4,"m3":-60.2},{"x":2.4,"m1":-48.9,"m2":-60.0,"m3":-59.7},{"x":2.5,"m1":-48.5,"m2":-59.5,"m3":-60.5},{"x":2.6,"m1":-49.2,"m2":-60.1,"m3":-60.0},{"x":2.7,"m1":-48.7,"m2":-59.6,"m3":-60.8},{"x":2.8,"m1":-49.4,"m2":-59.2,"m3":-60.3},{"x":2.9,"m1":-49.0,"m2":-59.8,"m3":-59.8},
{"x":3.0,"m1":-49.7,"m2":-59.4,"m3":-60.6},{"x":3.1,"m1":-49.2,"m2":-60.0,"m3":-60.1},{"x":3.2,"m1":-49.8,"m2":-59.5,"m3":-60.9},{"x":3.3,"m1":-49.3,"m2":-60.1,"m3":-60.4},{"x":3.4,"m1":-49.0,"m2":-59.6,"m3":-59.9},{"x":3.5,"m1":-49.6,"m2":-59.2,"m3":-60.7},{"x":3.6,"m1":-49.1,"m2":-59.8,"m3":-60.2},{"x":3.7,"m1":-49.7,"m2":-59.3,"m3":-60.8},{"x":3.8,"m1":-49.2,"m2":-59.9,"m3":-60.3},{"x":3.9,"m1":-49.8,"m2":-59.5,"m3":-59.8},
{"x":4.0,"m1":-49.3,"m2":-60.1,"m3":-60.5},{"x":4.1,"m1":-48.9,"m2":-59.6,"m3":-60.0},{"x":4.2,"m1":-49.5,"m2":-59.1,"m3":-60.7},{"x":4.3,"m1":-49.0,"m2":-59.7,"m3":-60.2},{"x":4.4,"m1":-49.6,"m2":-59.3,"m3":-59.7},{"x":4.5,"m1":-49.1,"m2":-59.9,"m3":-60.4},{"x":4.6,"m1":-49.7,"m2":-59.4,"m3":-59.9},{"x":4.7,"m1":-49.2,"m2":-60.0,"m3":-60.6},{"x":4.8,"m1":-49.8,"m2":-59.5,"m3":-60.1},{"x":4.9,"m1":-49.3,"m2":-59.8,"m3":-60.4},
{"x":5.0,"m1":-49.0,"m2":-33.0,"m3":-33.0},{"x":5.1,"m1":-49.6,"m2":-36.5,"m3":-42.0},{"x":5.2,"m1":-49.9,"m2":-40.0,"m3":-50.0},{"x":5.3,"m1":-50.3,"m2":-43.5,"m3":-56.0},{"x":5.4,"m1":-49.7,"m2":-47.0,"m3":-59.2},{"x":5.5,"m1":-50.4,"m2":-50.5,"m3":-60.5},{"x":5.6,"m1":-49.8,"m2":-54.0,"m3":-60.1},{"x":5.7,"m1":-50.2,"m2":-57.0,"m3":-60.8},{"x":5.8,"m1":-49.6,"m2":-59.2,"m3":-60.3},{"x":5.9,"m1":-50.1,"m2":-60.0,"m3":-61.0},
{"x":6.0,"m1":-49.5,"m2":-60.4,"m3":-60.4},{"x":6.1,"m1":-49.9,"m2":-59.9,"m3":-59.9},{"x":6.2,"m1":-49.3,"m2":-60.5,"m3":-60.6},{"x":6.3,"m1":-49.8,"m2":-60.0,"m3":-60.1},{"x":6.4,"m1":-49.2,"m2":-60.6,"m3":-60.8},{"x":6.5,"m1":-49.7,"m2":-60.1,"m3":-60.3},{"x":6.6,"m1":-49.1,"m2":-59.7,"m3":-59.8},{"x":6.7,"m1":-49.6,"m2":-60.3,"m3":-60.5},{"x":6.8,"m1":-49.0,"m2":-59.8,"m3":-60.0},{"x":6.9,"m1":-49.5,"m2":-60.4,"m3":-60.7},
{"x":7.0,"m1":-48.9,"m2":-59.9,"m3":-60.2},{"x":7.1,"m1":-49.4,"m2":-60.5,"m3":-60.9},{"x":7.2,"m1":-48.8,"m2":-60.0,"m3":-60.4},{"x":7.3,"m1":-49.3,"m2":-59.6,"m3":-59.9},{"x":7.4,"m1":-48.7,"m2":-60.2,"m3":-60.6},{"x":7.5,"m1":-49.2,"m2":-59.7,"m3":-60.1},{"x":7.6,"m1":-48.6,"m2":-60.3,"m3":-60.8},{"x":7.7,"m1":-49.1,"m2":-59.8,"m3":-60.3},{"x":7.8,"m1":-48.5,"m2":-60.4,"m3":-59.8},{"x":7.9,"m1":-49.0,"m2":-59.9,"m3":-60.5},
{"x":8.0,"m1":-48.6,"m2":-59.4,"m3":-60.0},{"x":8.1,"m1":-49.1,"m2":-59.9,"m3":-60.7},{"x":8.2,"m1":-48.5,"m2":-59.5,"m3":-60.2},{"x":8.3,"m1":-49.0,"m2":-60.1,"m3":-60.9},{"x":8.4,"m1":-48.4,"m2":-59.6,"m3":-60.4},{"x":8.5,"m1":-48.9,"m2":-60.2,"m3":-59.9},{"x":8.6,"m1":-48.5,"m2":-59.7,"m3":-60.6},{"x":8.7,"m1":-49.0,"m2":-59.2,"m3":-60.1},{"x":8.8,"m1":-48.6,"m2":-59.8,"m3":-60.8},{"x":8.9,"m1":-49.1,"m2":-59.3,"m3":-60.3},
{"x":9.0,"m1":-48.7,"m2":-59.9,"m3":-59.8},{"x":9.1,"m1":-49.2,"m2":-59.4,"m3":-60.4},{"x":9.2,"m1":-48.8,"m2":-58.8,"m3":-59.6},{"x":9.3,"m1":-49.3,"m2":-59.2,"m3":-59.2},{"x":9.4,"m1":-48.9,"m2":-59.7,"m3":-59.8},{"x":9.5,"m1":-49.4,"m2":-59.3,"m3":-60.3},{"x":9.6,"m1":-48.8,"m2":-59.9,"m3":-60.9},{"x":9.7,"m1":-49.3,"m2":-59.5,"m3":-60.4},{"x":9.8,"m1":-48.9,"m2":-60.1,"m3":-61.0},{"x":9.9,"m1":-49.4,"m2":-59.6,"m3":-60.5},
{"x":10.0,"m1":-49.0,"m2":-60.2,"m3":-60.9}
],
"f": [
{"x":0,"m1":-19.5,"m2":-20.0,"m3":-25.0},{"x":0.1,"m1":-20.0,"m2":-23.5,"m3":-50.0},{"x":0.2,"m1":-21.2,"m2":-31.0,"m3":-57.8},{"x":0.3,"m1":-23.0,"m2":-40.5,"m3":-59.6},{"x":0.4,"m1":-25.5,"m2":-48.5,"m3":-60.3},{"x":0.5,"m1":-28.6,"m2":-54.0,"m3":-59.7},{"x":0.6,"m1":-32.2,"m2":-57.2,"m3":-60.6},{"x":0.7,"m1":-36.0,"m2":-58.8,"m3":-60.0},{"x":0.8,"m1":-39.8,"m2":-59.4,"m3":-60.9},{"x":0.9,"m1":-43.2,"m2":-58.9,"m3":-60.2},
{"x":1.0,"m1":-45.8,"m2":-59.6,"m3":-59.6},{"x":1.1,"m1":-47.4,"m2":-59.1,"m3":-60.4},{"x":1.2,"m1":-48.0,"m2":-59.8,"m3":-59.8},{"x":1.3,"m1":-47.4,"m2":-59.3,"m3":-60.7},{"x":1.4,"m1":-47.9,"m2":-58.8,"m3":-60.1},{"x":1.5,"m1":-47.2,"m2":-59.5,"m3":-59.5},{"x":1.6,"m1":-47.7,"m2":-59.0,"m3":-60.3},{"x":1.7,"m1":-47.0,"m2":-59.7,"m3":-59.7},{"x":1.8,"m1":-47.6,"m2":-59.2,"m3":-60.6},{"x":1.9,"m1":-48.2,"m2":-59.9,"m3":-60.0},
{"x":2.0,"m1":-47.4,"m2":-59.4,"m3":-60.9},{"x":2.1,"m1":-47.9,"m2":-58.9,"m3":-60.2},{"x":2.2,"m1":-47.1,"m2":-59.6,"m3":-59.6},{"x":2.3,"m1":-47.6,"m2":-59.1,"m3":-60.4},{"x":2.4,"m1":-46.9,"m2":-58.2,"m3":-59.8},{"x":2.5,"m1":-47.4,"m2":-59.3,"m3":-60.7},{"x":2.6,"m1":-46.7,"m2":-58.8,"m3":-60.1},{"x":2.7,"m1":-47.3,"m2":-59.5,"m3":-59.5},{"x":2.8,"m1":-46.6,"m2":-59.0,"m3":-60.3},{"x":2.9,"m1":-47.1,"m2":-59.7,"m3":-59.7},
{"x":3.0,"m1":-46.5,"m2":-59.2,"m3":-60.6},{"x":3.1,"m1":-47.0,"m2":-58.7,"m3":-60.0},{"x":3.2,"m1":-46.4,"m2":-59.4,"m3":-60.8},{"x":3.3,"m1":-46.9,"m2":-58.9,"m3":-60.2},{"x":3.4,"m1":-46.3,"m2":-59.6,"m3":-61.3},{"x":3.5,"m1":-46.8,"m2":-59.1,"m3":-60.4},{"x":3.6,"m1":-46.2,"m2":-59.8,"m3":-59.8},{"x":3.7,"m1":-46.8,"m2":-59.3,"m3":-60.6},{"x":3.8,"m1":-46.3,"m2":-58.8,"m3":-60.0},{"x":3.9,"m1":-46.9,"m2":-59.5,"m3":-60.8},
{"x":4.0,"m1":-46.4,"m2":-59.0,"m3":-60.2},{"x":4.1,"m1":-47.0,"m2":-59.7,"m3":-59.6},{"x":4.2,"m1":-46.5,"m2":-59.2,"m3":-60.4},{"x":4.3,"m1":-47.1,"m2":-59.9,"m3":-59.9},{"x":4.4,"m1":-46.6,"m2":-59.4,"m3":-60.7},{"x":4.5,"m1":-47.2,"m2":-58.9,"m3":-60.1},{"x":4.6,"m1":-46.7,"m2":-59.6,"m3":-59.5},{"x":4.7,"m1":-47.4,"m2":-59.1,"m3":-60.3},{"x":4.8,"m1":-46.9,"m2":-59.8,"m3":-59.8},{"x":4.9,"m1":-47.6,"m2":-59.3,"m3":-60.5},
{"x":5.0,"m1":-46.5,"m2":-36.0,"m3":-35.0},{"x":5.1,"m1":-44.8,"m2":-44.0,"m3":-55.0},{"x":5.2,"m1":-44.2,"m2":-51.0,"m3":-59.2},{"x":5.3,"m1":-44.7,"m2":-55.5,"m3":-60.3},{"x":5.4,"m1":-44.1,"m2":-57.8,"m3":-59.8},{"x":5.5,"m1":-44.6,"m2":-58.8,"m3":-60.6},{"x":5.6,"m1":-43.9,"m2":-59.3,"m3":-60.0},{"x":5.7,"m1":-44.4,"m2":-58.7,"m3":-60.8},{"x":5.8,"m1":-43.8,"m2":-59.4,"m3":-60.2},{"x":5.9,"m1":-44.3,"m2":-58.9,"m3":-59.6},
{"x":6.0,"m1":-43.7,"m2":-59.6,"m3":-60.4},{"x":6.1,"m1":-44.2,"m2":-59.1,"m3":-59.9},{"x":6.2,"m1":-43.6,"m2":-58.6,"m3":-60.7},{"x":6.3,"m1":-44.1,"m2":-59.3,"m3":-60.1},{"x":6.4,"m1":-43.5,"m2":-58.8,"m3":-60.9},{"x":6.5,"m1":-44.0,"m2":-59.5,"m3":-60.3},{"x":6.6,"m1":-43.4,"m2":-59.0,"m3":-59.7},{"x":6.7,"m1":-43.9,"m2":-58.5,"m3":-60.5},{"x":6.8,"m1":-43.3,"m2":-59.2,"m3":-60.0},{"x":6.9,"m1":-43.8,"m2":-58.7,"m3":-60.8},
{"x":7.0,"m1":-44.3,"m2":-59.4,"m3":-60.2},{"x":7.1,"m1":-43.6,"m2":-58.9,"m3":-59.6},{"x":7.2,"m1":-44.1,"m2":-59.6,"m3":-60.4},{"x":7.3,"m1":-43.5,"m2":-59.1,"m3":-59.9},{"x":7.4,"m1":-44.0,"m2":-58.6,"m3":-60.7},{"x":7.5,"m1":-43.4,"m2":-59.3,"m3":-60.1},{"x":7.6,"m1":-43.9,"m2":-58.8,"m3":-59.5},{"x":7.7,"m1":-43.3,"m2":-59.5,"m3":-60.3},{"x":7.8,"m1":-43.8,"m2":-59.0,"m3":-59.8},{"x":7.9,"m1":-44.3,"m2":-58.4,"m3":-60.6},
{"x":8.0,"m1":-43.6,"m2":-59.1,"m3":-60.0},{"x":8.1,"m1":-44.1,"m2":-58.6,"m3":-60.8},{"x":8.2,"m1":-43.5,"m2":-59.3,"m3":-60.2},{"x":8.3,"m1":-44.0,"m2":-58.8,"m3":-59.6},{"x":8.4,"m1":-43.4,"m2":-59.5,"m3":-60.4},{"x":8.5,"m1":-43.9,"m2":-59.0,"m3":-59.9},{"x":8.6,"m1":-43.3,"m2":-58.5,"m3":-60.7},{"x":8.7,"m1":-43.8,"m2":-59.2,"m3":-60.1},{"x":8.8,"m1":-44.3,"m2":-58.7,"m3":-59.5},{"x":8.9,"m1":-43.7,"m2":-59.4,"m3":-60.3},
{"x":9.0,"m1":-44.2,"m2":-58.9,"m3":-59.8},{"x":9.1,"m1":-43.6,"m2":-58.4,"m3":-60.6},{"x":9.2,"m1":-44.1,"m2":-59.1,"m3":-60.0},{"x":9.3,"m1":-43.5,"m2":-58.6,"m3":-60.8},{"x":9.4,"m1":-44.0,"m2":-59.3,"m3":-60.2},{"x":9.5,"m1":-43.4,"m2":-58.8,"m3":-59.6},{"x":9.6,"m1":-43.9,"m2":-59.5,"m3":-60.4},{"x":9.7,"m1":-44.4,"m2":-59.0,"m3":-59.9},{"x":9.8,"m1":-43.8,"m2":-58.5,"m3":-60.7},{"x":9.9,"m1":-44.2,"m2":-59.2,"m3":-60.1},
{"x":10.0,"m1":-43.7,"m2":-58.7,"m3":-60.5}
]
},
"config": {
 "font": "Liberation Serif",
 "view": {"stroke": "#000000", "strokeWidth": 0.6},
 "axis": {"grid": false, "labelFont": "Liberation Serif", "labelFontSize": 6, "labelColor": "#000000", "titleFont": "Liberation Serif", "titleFontSize": 6.5, "titleFontWeight": "normal", "titleColor": "#000000", "domainColor": "#000000", "domainWidth": 0.6, "tickColor": "#000000", "tickWidth": 0.6, "tickSize": -3, "labelPadding": 5, "titlePadding": 2, "labelFlush": false, "labelOverlap": false},
 "legend": {"orient": "top-right", "offset": 5, "padding": 0, "rowPadding": 0.5, "symbolType": "M-1,0H3.6", "symbolSize": 36, "symbolStrokeWidth": 1.2, "labelFont": "Liberation Serif", "labelFontSize": 6.5, "labelColor": "#000000", "labelOffset": 10, "symbolOffset": 0, "labelLimit": 120},
 "title": {"orient": "bottom", "font": "Liberation Serif", "fontSize": 12, "fontWeight": "normal", "color": "#000000", "anchor": "middle"}
}
}
